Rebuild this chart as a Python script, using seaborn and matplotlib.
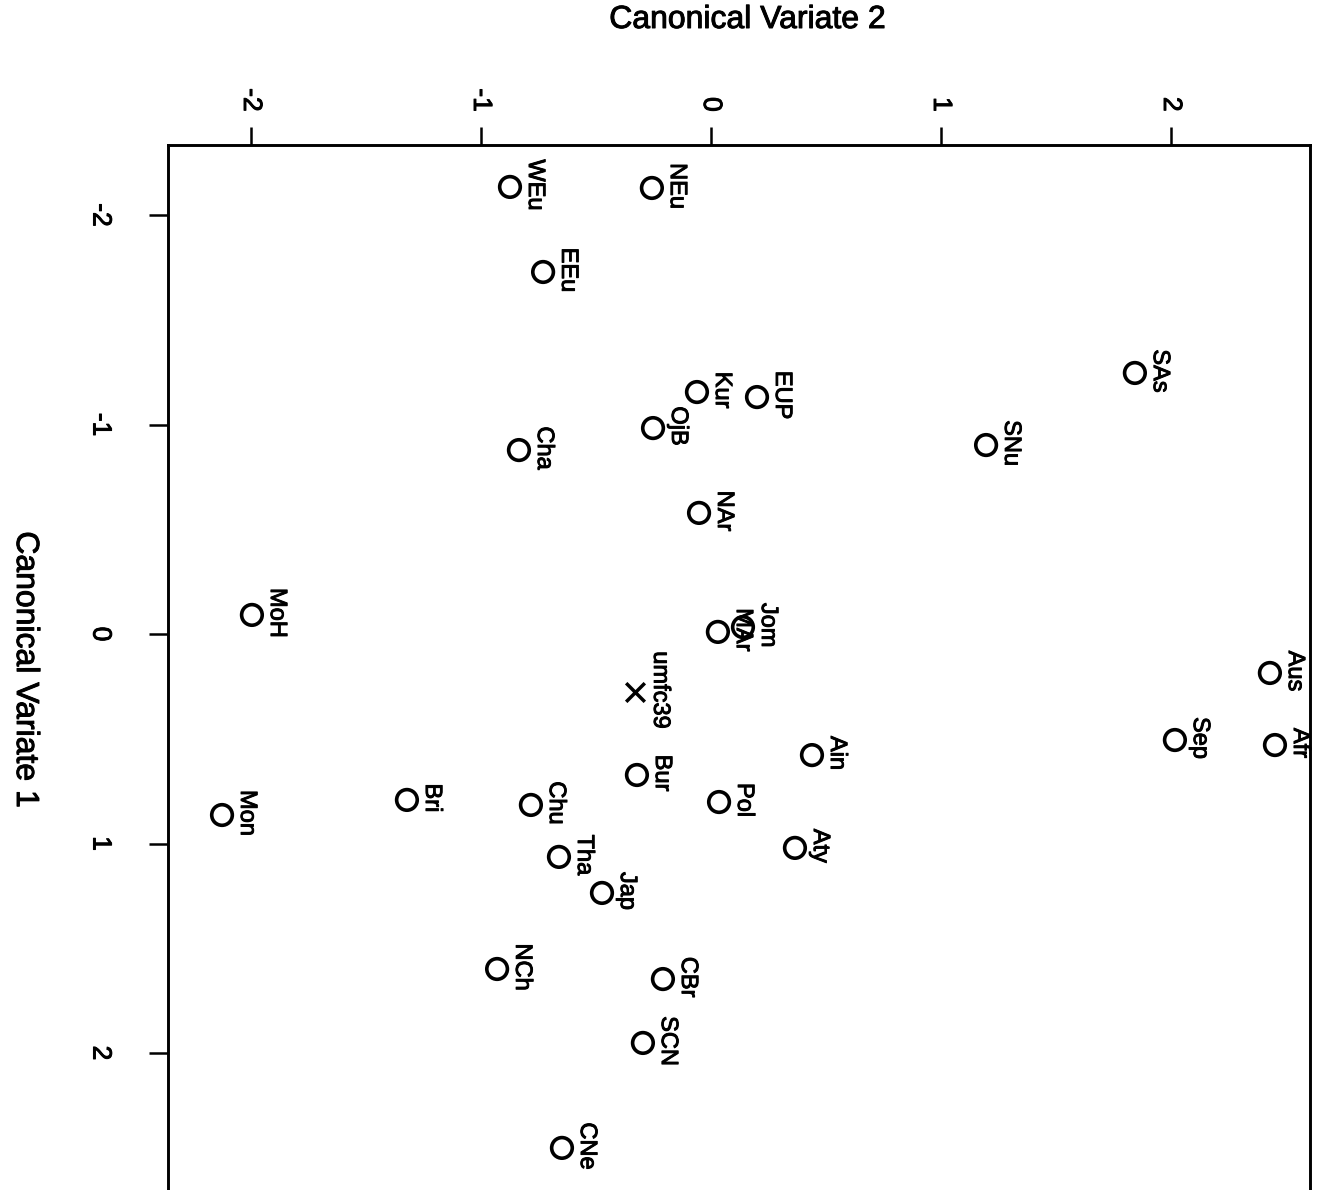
import matplotlib
matplotlib.use("Agg")
import matplotlib.pyplot as plt
import matplotlib.patheffects as pe
import seaborn as sns
import pandas as pd

# ---- data ----
labels = ["WEu", "NEu", "EEu", "SAs", "Kur", "EUP", "OjB", "SNu", "Cha", "NAr",
          "MoH", "Jom", "MAr", "umfc39", "Aus", "Sep", "Afr", "Ain", "Bur", "Pol",
          "Bri", "Chu", "Mon", "Aty", "Tha", "Jap", "NCh", "CBr", "SCN", "CNe"]
cv2 = [-0.874, -0.257, -0.730, 1.843, -0.061, 0.200, -0.252, 1.196, -0.835, -0.052,
       -1.996, 0.139, 0.030, -0.330, 2.430, 2.017, 2.452, 0.439, -0.322, 0.035,
       -1.322, -0.783, -2.126, 0.365, -0.661, -0.474, -0.930, -0.209, -0.296, -0.648]
cv1 = [-2.134, -2.129, -1.728, -1.246, -1.155, -1.131, -0.983, -0.902, -0.878, -0.578,
       -0.091, -0.033, -0.010, 0.277, 0.186, 0.506, 0.530, 0.578, 0.673, 0.802,
       0.792, 0.816, 0.864, 1.021, 1.064, 1.236, 1.599, 1.647, 1.952, 2.453]
kind = ["group"] * len(labels)
kind[labels.index("umfc39")] = "specimen"
tick_vals = [-2, -1, 0, 1, 2]
tick_labels = ["-2", "-1", "0", "1", "2"]

df = pd.DataFrame({"label": labels, "cv2": cv2, "cv1": cv1, "kind": kind})

sns.set_theme(style="white")
plt.rcParams["font.family"] = ["Liberation Sans Narrow", "Liberation Sans", "DejaVu Sans"]

heavy = [pe.withStroke(linewidth=0.7, foreground="black")]

W, H = 1324, 1190
fig = plt.figure(figsize=(W / 100, H / 100), dpi=100)
fig.patch.set_facecolor("white")

# axes box: left 168 px, right 1310 px, top 145 px, bottom beyond image
x0, x1, y0, y1 = 168, 1310, 145, 1200
ax = fig.add_axes([x0 / W, 1 - y1 / H, (x1 - x0) / W, (y1 - y0) / H])
ax.set_facecolor("white")

px_x, c_x = 230.0, 711.0
px_y, c_y = 209.5, 634.0
ax.set_xlim((x0 - c_x) / px_x, (x1 - c_x) / px_x)
ax.set_ylim((y1 - c_y) / px_y, (y0 - c_y) / px_y)

grp = df[df.kind == "group"]
spc = df[df.kind == "specimen"]
sns.scatterplot(data=grp, x="cv2", y="cv1", ax=ax, marker="o", s=220,
                facecolor="none", edgecolor="black", linewidth=2.6, legend=False)
sns.scatterplot(data=spc, x="cv2", y="cv1", ax=ax, marker="x", s=180,
                color="black", linewidth=2.5, legend=False)

for _, r in df.iterrows():
    ax.annotate(r["label"], (r["cv2"], r["cv1"]), xytext=(14, 2),
                textcoords="offset pixels", rotation=-90, ha="left", va="center",
                fontsize=17, color="black", path_effects=heavy)

ax.set_xticks(tick_vals)
ax.set_xticklabels(tick_labels, rotation=-90)
ax.set_yticks(tick_vals)
ax.set_yticklabels(tick_labels, rotation=-90, va="center")
ax.xaxis.tick_top()
ax.tick_params(axis="x", which="both", top=True, bottom=False, direction="out",
               length=13, width=1.8, pad=11, labelsize=19, colors="black")
ax.tick_params(axis="y", which="both", left=True, right=False, direction="out",
               length=14, width=1.8, pad=26, labelsize=19, colors="black")
for t in ax.get_xticklabels() + ax.get_yticklabels():
    t.set_path_effects(heavy)
ax.set_xlabel("")
ax.set_ylabel("")
for s in ["top", "left", "right", "bottom"]:
    ax.spines[s].set_visible(True)
    ax.spines[s].set_color("black")
    ax.spines[s].set_linewidth(2.1)

fig.text(748 / W, 1 - 20 / H, "Canonical Variate 2", ha="center", va="center",
         fontsize=23, color="black", path_effects=heavy)
fig.text(25 / W, 1 - 670 / H, "Canonical Variate 1", ha="center", va="center",
         rotation=-90, fontsize=23, color="black", path_effects=heavy)

fig.savefig("out.png", dpi=100, facecolor="white")
